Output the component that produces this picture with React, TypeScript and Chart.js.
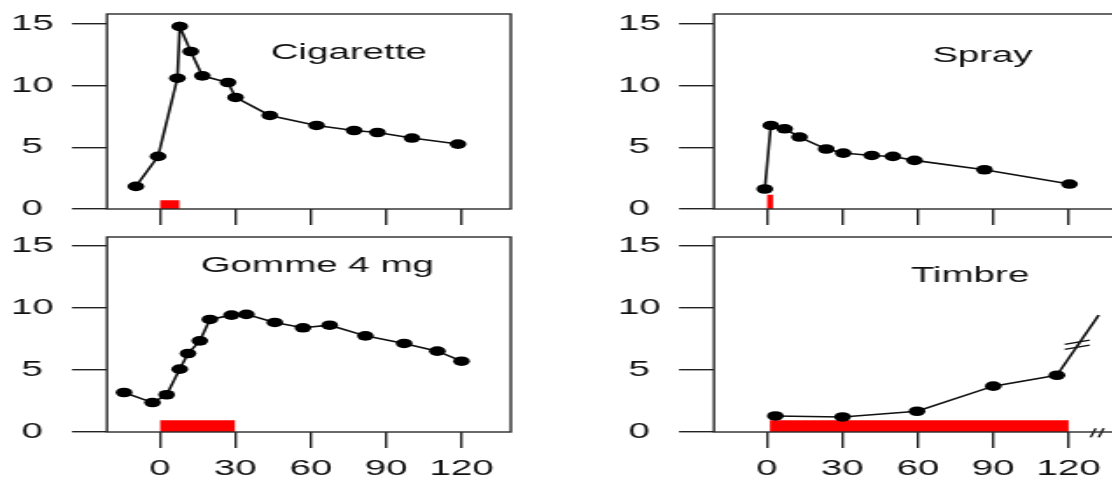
import React, { useEffect, useRef } from "react";
import { Chart, registerables } from "chart.js";

Chart.register(...registerables);

// The reference picture is stretched horizontally; every canvas is drawn narrow and widened by CSS.
const STRETCH = 1.75;
const CANVAS_W = 347;
const FONT = '"Liberation Sans", Arial, Helvetica, sans-serif';

const xTickValues = [0, 30, 60, 90, 120];
const yTickValues = [0, 5, 10, 15];

// Cigarette
const cigTime = [-9.5, -0.7, 7.0, 7.9, 12.3, 16.9, 27.1, 30.1, 43.7, 62.3, 77.2, 86.5, 100.2, 118.5];
const cigConc = [1.83, 4.26, 10.6, 14.79, 12.76, 10.79, 10.25, 9.04, 7.58, 6.77, 6.36, 6.2, 5.75, 5.26];
const cigBarX = [0, 7.9];
const cigBarY = 0.7;

// Spray
const sprayTime = [-0.8, 1.6, 7.1, 13.0, 23.6, 30.4, 41.7, 50.1, 58.7, 86.5, 120.3];
const sprayConc = [1.62, 6.77, 6.5, 5.83, 4.86, 4.53, 4.34, 4.26, 3.94, 3.18, 2.02];
const sprayBarX = [0, 2.5];
const sprayBarY = 1.16;

// Gomme 4 mg
const gumTime = [-14.2, -2.9, 2.7, 7.9, 11.2, 15.9, 19.9, 28.5, 34.4, 45.7, 56.9, 67.5, 81.7, 97.1, 110.3, 119.9];
const gumConc = [3.18, 2.37, 3.0, 5.06, 6.32, 7.34, 9.06, 9.41, 9.47, 8.82, 8.39, 8.6, 7.74, 7.13, 6.51, 5.7];
const gumBarX = [0, 30];
const gumBarY = 0.94;

// Timbre
const patchTime = [3.4, 30.1, 59.7, 90.0, 115.3];
const patchConc = [1.29, 1.21, 1.67, 3.69, 4.57];
const patchBarX = [1.2, 120];
const patchBarY = 0.94;
const patchBreakX = [115.3, 131.9];
const patchBreakY = [4.57, 9.41];
const patchMarkAX = [118.4, 128.3];
const patchMarkAY = [7.05, 7.4];
const patchMarkBX = [118.4, 128.3];
const patchMarkBY = [6.65, 7.0];
const axisMarkAX = [128.7, 130.7];
const axisMarkBX = [131.9, 133.9];
const axisMarkY = [-0.43, 0.3];

const titles = ["Cigarette", "Spray", "Gomme 4 mg", "Timbre"];
const titleX = [75.1, 85.7, 62.6, 80.8];
const titleY = [12.14, 11.94, 12.88, 12.07];

const pairs = (xs: number[], ys: number[]) => xs.map((x, i) => ({ x, y: ys[i] }));

const boxPlugin = {
  id: "panelBox",
  afterDatasetsDraw(chart: any) {
    const { ctx, chartArea } = chart;
    ctx.save();
    ctx.strokeStyle = "#2a2a2a";
    ctx.lineWidth = 1.4;
    ctx.strokeRect(chartArea.left, chartArea.top, chartArea.right - chartArea.left, chartArea.bottom - chartArea.top);
    ctx.restore();
  },
};

const titlePlugin = {
  id: "panelTitle",
  afterDatasetsDraw(chart: any, _args: any, opts: any) {
    if (!opts || !opts.text) return;
    const { ctx, scales } = chart;
    ctx.save();
    ctx.font = `22px ${FONT}`;
    ctx.fillStyle = "#111";
    ctx.textAlign = "center";
    ctx.textBaseline = "alphabetic";
    ctx.fillText(opts.text, scales.x.getPixelForValue(opts.x), scales.y.getPixelForValue(opts.y));
    ctx.restore();
  },
};

type PanelProps = {
  idx: number;
  time: number[];
  conc: number[];
  barX: number[];
  barY: number;
  left: number;
  top: number;
  height: number;
  padTop: number;
  xAxisH: number;
  yMax: number;
  showLabels: boolean;
  extras?: boolean;
};

function Panel(props: PanelProps) {
  const ref = useRef<HTMLCanvasElement>(null);
  useEffect(() => {
    const p = props;
    const lineStyle = { borderColor: "#111", pointRadius: 0, fill: false, tension: 0, clip: false as any };
    const datasets: any[] = [
      {
        data: pairs(p.time, p.conc),
        borderColor: "#111",
        borderWidth: 1.6,
        pointRadius: 4.8,
        pointBackgroundColor: "#000",
        pointBorderColor: "#000",
        pointBorderWidth: 0,
        fill: false,
        tension: 0,
      },
    ];
    if (p.extras) {
      datasets.push(
        { ...lineStyle, data: pairs(patchBreakX, patchBreakY), borderWidth: 1.6 },
        { ...lineStyle, data: pairs(patchMarkAX, patchMarkAY), borderWidth: 1.4 },
        { ...lineStyle, data: pairs(patchMarkBX, patchMarkBY), borderWidth: 1.4 },
        { ...lineStyle, data: pairs(axisMarkAX, axisMarkY), borderWidth: 1.3 },
        { ...lineStyle, data: pairs(axisMarkBX, axisMarkY), borderWidth: 1.3 }
      );
    }
    datasets.push({
      data: pairs(p.barX, [p.barY, p.barY]),
      borderWidth: 0,
      borderColor: "rgba(0,0,0,0)",
      pointRadius: 0,
      fill: "origin",
      backgroundColor: "#ff0000",
      tension: 0,
    });

    const chart = new Chart(ref.current as HTMLCanvasElement, {
      type: "line",
      data: { datasets },
      options: {
        animation: false,
        responsive: false,
        devicePixelRatio: 1,
        events: [],
        layout: { padding: { left: 0, right: CANVAS_W - 292, top: p.padTop, bottom: 0 } },
        plugins: {
          legend: { display: false },
          tooltip: { enabled: false },
          panelTitle: { text: titles[p.idx], x: titleX[p.idx], y: titleY[p.idx] },
        } as any,
        scales: {
          x: {
            type: "linear",
            min: -21,
            max: 139.5,
            afterBuildTicks: (axis: any) => {
              axis.ticks = xTickValues.map((v) => ({ value: v }));
            },
            afterFit: (s: any) => {
              s.height = p.xAxisH;
              s.paddingLeft = 0;
              s.paddingRight = 0;
            },
            grid: {
              display: true,
              drawOnChartArea: false,
              drawTicks: true,
              tickLength: 16,
              color: "#222",
              tickColor: "#222",
              lineWidth: 1.4,
            },
            border: { display: false },
            ticks: {
              display: p.showLabels,
              autoSkip: false,
              maxRotation: 0,
              padding: 8,
              color: "#111",
              font: { family: FONT, size: 22 },
            },
          },
          y: {
            type: "linear",
            min: 0,
            max: p.yMax,
            afterBuildTicks: (axis: any) => {
              axis.ticks = yTickValues.map((v) => ({ value: v }));
            },
            afterFit: (s: any) => {
              s.width = 61.14;
              s.paddingTop = 0;
              s.paddingBottom = 0;
            },
            grid: {
              display: true,
              drawOnChartArea: false,
              drawTicks: true,
              tickLength: 20,
              color: "#222",
              tickColor: "#222",
              lineWidth: 1.4,
            },
            border: { display: false },
            ticks: {
              crossAlign: "center",
              padding: 10.5,
              color: "#111",
              font: { family: FONT, size: 22 },
            },
          },
        },
      },
      plugins: [boxPlugin, titlePlugin],
    });
    return () => chart.destroy();
  }, []);
  return (
    <canvas
      ref={ref}
      width={CANVAS_W}
      height={props.height}
      style={{
        position: "absolute",
        left: props.left,
        top: props.top,
        width: CANVAS_W * STRETCH,
        height: props.height,
        display: "block",
      }}
    />
  );
}

export default function App() {
  return (
    <div
      style={{
        position: "absolute",
        left: 0,
        top: 0,
        width: 1112,
        height: 483,
        overflow: "hidden",
        background: "#fff",
      }}
    >
      <Panel idx={0} time={cigTime} conc={cigConc} barX={cigBarX} barY={cigBarY}
        left={0} top={0} height={230} padTop={14} xAxisH={21} yMax={15.8} showLabels={false} />
      <Panel idx={1} time={sprayTime} conc={sprayConc} barX={sprayBarX} barY={sprayBarY}
        left={607} top={0} height={230} padTop={14} xAxisH={21} yMax={15.8} showLabels={false} />
      <Panel idx={2} time={gumTime} conc={gumConc} barX={gumBarX} barY={gumBarY}
        left={0} top={230} height={253} padTop={7} xAxisH={51} yMax={15.7} showLabels={true} />
      <Panel idx={3} time={patchTime} conc={patchConc} barX={patchBarX} barY={patchBarY}
        left={607} top={230} height={253} padTop={7} xAxisH={51} yMax={15.7} showLabels={true} extras={true} />
    </div>
  );
}
